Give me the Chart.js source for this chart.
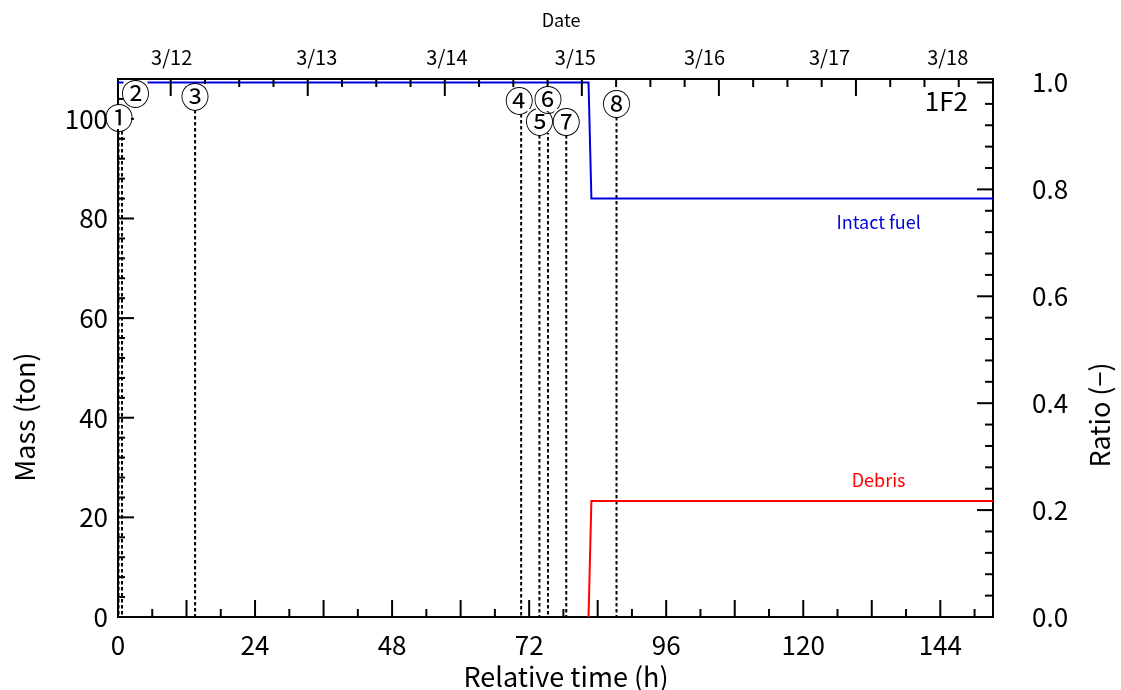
<!DOCTYPE html>
<html lang="ja">
<head>
<meta charset="UTF-8">
<title>1F2 fuel mass</title>
<style>
  html, body { margin: 0; padding: 0; background: #fff; }
  #wrap { width: 1121px; height: 690px; }
</style>
</head>
<body>
<div id="wrap"><canvas id="massChart" width="1121" height="690"></canvas></div>
<script src="https://cdn.jsdelivr.net/npm/chart.js"></script>
<script>
// time axis (hours after 3/11 14:46) and the fuel masses (ton)
const intactHours = [0, 82.4, 82.9, 153.23];
const intactMass  = [107.3, 107.3, 84.0, 84.0];
const debrisHours = [82.4, 82.9, 153.23];
const debrisMass  = [0, 23.3, 23.3];
const totalMass = 107.3;

// events marked with dotted lines
const eventHours  = [0.7, 0.1, 13.5, 70.6, 73.8, 75.3, 78.5, 87.3];
const eventLabels = ['①', '②', '③', '④', '⑤', '⑥', '⑦', '⑧'];

// tick labels
const hourTicks  = [0, 24, 48, 72, 96, 120, 144];
const massTicks  = [0, 20, 40, 60, 80, 100];
const ratioTicks = [0, 0.2, 0.4, 0.6, 0.8, 1.0];
const dateLabels = ['3/12', '3/13', '3/14', '3/15', '3/16', '3/17', '3/18'];
const dateLabelHours = [9.4, 34.8, 57.6, 80.1, 102.7, 124.6, 145.3];
const dayStartHour = 9.23;   // 3/12 00:00

const X_MAX = 153.23, Y_MAX = 108;
const FONT = "'Noto Sans CJK JP', 'Liberation Sans', sans-serif";

// circled label layout: vertical centre and horizontal nudge
const labelY  = [117, 93, 96, 100, 121, 99, 121, 103];
const labelDx = [-3, 17, 0, -2, 0, 0, 0, 0];

function ticksAt(list) {
  return scale => { scale.ticks = list.map(v => ({ value: v })); };
}

function range(from, to, step) {
  const out = [];
  for (let v = from; v <= to + 1e-6; v += step) out.push(v);
  return out;
}

// inward tick marks on all four sides, titles and labels drawn on top
const decorPlugin = {
  id: 'decor',
  beforeDatasetsDraw(chart) {
    const { ctx, chartArea: a, scales: { x } } = chart;
    ctx.save();
    ctx.strokeStyle = '#000';
    ctx.lineWidth = 2;
    ctx.setLineDash([3.5, 2.5]);
    eventHours.forEach((h, i) => {
      const px = x.getPixelForValue(h);
      ctx.beginPath();
      ctx.moveTo(px, labelY[i] + 14);
      ctx.lineTo(px, a.bottom);
      ctx.stroke();
    });
    ctx.restore();
  },
  afterDraw(chart) {
    const { ctx, chartArea: a, scales: { x, y, y2 } } = chart;
    ctx.save();
    ctx.strokeStyle = '#000';
    ctx.lineWidth = 2;
    const MAJ = 17, MIN = 8;

    function vTick(px, len, fromTop) {
      ctx.beginPath();
      if (fromTop) { ctx.moveTo(px, a.top); ctx.lineTo(px, a.top + len); }
      else { ctx.moveTo(px, a.bottom); ctx.lineTo(px, a.bottom - len); }
      ctx.stroke();
    }
    function hTick(py, len, fromLeft) {
      ctx.beginPath();
      if (fromLeft) { ctx.moveTo(a.left, py); ctx.lineTo(a.left + len, py); }
      else { ctx.moveTo(a.right, py); ctx.lineTo(a.right - len, py); }
      ctx.stroke();
    }

    // bottom: every 6 h, long every 12 h
    range(6, X_MAX, 6).forEach(h => vTick(x.getPixelForValue(h), h % 12 === 0 ? MAJ : MIN, false));
    // top: every 6 h, long at midnight
    range(dayStartHour - 6, X_MAX, 6).forEach((h, i) => {
      if (h <= 0) return;
      vTick(x.getPixelForValue(h), i % 4 === 1 ? MAJ : MIN, true);
    });
    // left mass axis
    range(4, Y_MAX, 4).forEach(m => hTick(y.getPixelForValue(m), m % 20 === 0 ? 16 : 7, true));
    // right ratio axis
    range(0.04, y2.max, 0.04).forEach(r => {
      const major = Math.abs(r * 5 - Math.round(r * 5)) < 1e-6;
      hTick(y2.getPixelForValue(r), major ? 16 : 8, false);
    });

    // circled event labels
    ctx.font = '29px ' + FONT;
    ctx.textAlign = 'center';
    ctx.textBaseline = 'middle';
    eventLabels.forEach((t, i) => {
      const px = x.getPixelForValue(eventHours[i]) + labelDx[i];
      ctx.fillStyle = '#fff';
      ctx.fillRect(px - 12, labelY[i] - 12, 24, 24);
      ctx.fillStyle = '#000';
      ctx.fillText(t, px, labelY[i] + 1);
    });

    // series names
    ctx.font = '18px ' + FONT;
    ctx.fillStyle = '#0000dd';
    ctx.fillText('Intact fuel', x.getPixelForValue(133.2), y.getPixelForValue(intactMass[3]) + 24);
    ctx.fillStyle = '#ff0000';
    ctx.fillText('Debris', x.getPixelForValue(133.2), y.getPixelForValue(debrisMass[2]) - 21);

    // unit name
    ctx.fillStyle = '#000';
    ctx.font = '26px ' + FONT;
    ctx.textAlign = 'right';
    ctx.fillText('1F2', a.right - 25, a.top + 22);

    // axis titles
    ctx.textAlign = 'center';
    ctx.font = '27px ' + FONT;
    ctx.fillText('Relative time (h)', 566, 677);
    ctx.font = '18px ' + FONT;
    ctx.fillText('Date', 561, 20);
    ctx.font = '27px ' + FONT;
    ctx.save();
    ctx.translate(25, 417);
    ctx.rotate(-Math.PI / 2);
    ctx.fillText('Mass (ton)', 0, 0);
    ctx.restore();
    ctx.translate(1100, 415);
    ctx.rotate(-Math.PI / 2);
    ctx.fillText('Ratio (−)', 0, 0);
    ctx.restore();
  }
};

const toPoints = (xs, ys) => xs.map((v, i) => ({ x: v, y: ys[i] }));

new Chart(document.getElementById('massChart'), {
  type: 'line',
  data: {
    datasets: [
      {
        label: 'Intact fuel',
        data: toPoints(intactHours, intactMass),
        borderColor: '#0000dd',
        borderWidth: 2,
        pointRadius: 0,
        tension: 0
      },
      {
        label: 'Debris',
        data: toPoints(debrisHours, debrisMass),
        borderColor: '#ff0000',
        borderWidth: 2,
        pointRadius: 0,
        tension: 0
      }
    ]
  },
  options: {
    responsive: false,
    animation: false,
    devicePixelRatio: 1,
    layout: { padding: 0 },
    plugins: { legend: { display: false }, tooltip: { enabled: false } },
    scales: {
      x: {
        type: 'linear',
        position: 'bottom',
        min: 0, max: X_MAX,
        afterBuildTicks: ticksAt(hourTicks),
        afterFit: s => { s.height = 73; },
        grid: { display: false, drawTicks: false },
        border: { display: true, color: '#000', width: 2 },
        ticks: { color: '#000', padding: 13, maxRotation: 0, autoSkip: false,
                 font: { family: FONT, size: 26 } }
      },
      xTop: {
        type: 'linear',
        position: 'top',
        min: 0, max: X_MAX,
        afterBuildTicks: ticksAt(dateLabelHours),
        afterFit: s => { s.height = 79; },
        grid: { display: false, drawTicks: false },
        border: { display: true, color: '#000', width: 2 },
        ticks: { color: '#000', padding: 10, maxRotation: 0, autoSkip: false,
                 font: { family: FONT, size: 20 },
                 callback: (v, i) => dateLabels[i] }
      },
      y: {
        type: 'linear',
        position: 'left',
        min: 0, max: Y_MAX,
        afterBuildTicks: ticksAt(massTicks),
        afterFit: s => { s.width = 118; },
        grid: { display: false, drawTicks: false },
        border: { display: true, color: '#000', width: 2 },
        ticks: { color: '#000', padding: 10, font: { family: FONT, size: 26 } }
      },
      y2: {
        type: 'linear',
        position: 'right',
        min: 0, max: Y_MAX / totalMass,
        afterBuildTicks: ticksAt(ratioTicks),
        afterFit: s => { s.width = 128; },
        grid: { display: false, drawTicks: false },
        border: { display: true, color: '#000', width: 2 },
        ticks: { color: '#000', padding: 39, font: { family: FONT, size: 26 },
                 callback: v => v.toFixed(1) }
      }
    }
  },
  plugins: [decorPlugin]
});
</script>
</body>
</html>
